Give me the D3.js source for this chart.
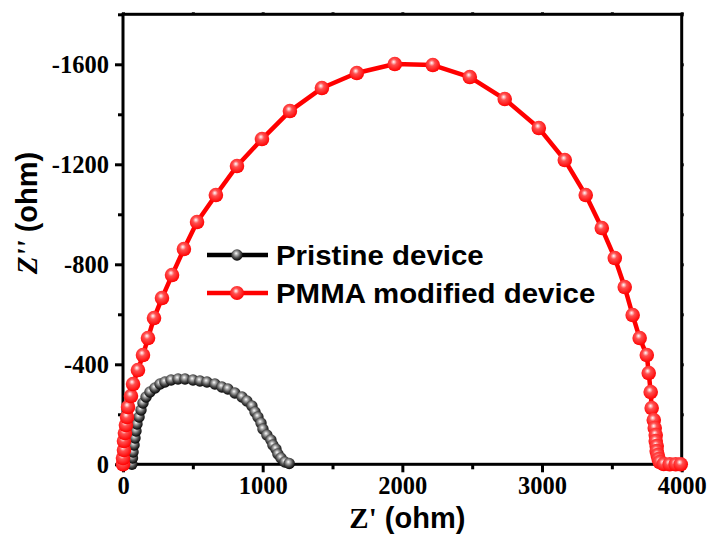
<!DOCTYPE html>
<html>
<head>
<meta charset="utf-8">
<script src="https://cdn.jsdelivr.net/npm/d3@7"></script>
<style>
  body { margin: 0; background: #fff; }
  .tick text { font-family: "Liberation Serif", "Times New Roman", serif; font-weight: bold; font-size: 24.5px; fill: #000; }
</style>
</head>
<body>
<script>
// Nyquist data, Z' (ohm) vs Z'' (ohm)
var pristineRe = [64, 68, 72, 79, 86, 93, 100, 115, 129, 143, 165, 193, 229, 265, 300, 344, 394, 444, 501, 551,
                  601, 658, 708, 751, 801, 852, 887, 923, 945, 966, 988, 1002, 1030, 1059, 1073, 1095, 1109, 1131, 1159, 1190];
var pristineIm = [0, -25, -49, -77, -105, -133, -161, -189, -217, -245, -269, -289, -305, -321, -329, -337, -341, -341, -337, -333,
                  -329, -321, -309, -301, -285, -269, -253, -233, -209, -189, -165, -141, -117, -97, -77, -61, -41, -25, -9, -3];

var pmmaRe = [0, 0, 7, 7, 14, 21, 29, 36, 57, 72, 107, 143, 179, 222, 279, 351, 436, 530, 665, 816,
              995, 1195, 1424, 1674, 1946, 2218, 2483, 2733, 2977, 3163, 3313, 3428, 3521, 3592, 3649, 3699, 3750, 3764, 3778, 3785,
              3800, 3807, 3814, 3814, 3821, 3821, 3828, 3835, 3843, 3871, 3914, 3957, 3993];
var pmmaIm = [0, -25, -57, -93, -125, -157, -189, -229, -273, -321, -377, -437, -505, -585, -665, -757, -861, -969, -1077, -1193,
              -1301, -1413, -1505, -1565, -1601, -1597, -1549, -1461, -1345, -1217, -1077, -945, -825, -709, -597, -505, -437, -365, -289, -225,
              -177, -145, -117, -93, -73, -53, -37, -21, -9, -1, 0, 0, 0];

var xTicks = [0, 1000, 2000, 3000, 4000];
var yTicks = [0, -400, -800, -1200, -1600];

var legendNames = ["Pristine device", "PMMA modified device"];

var W = 709, H = 534;
var margin = {top: 14.3, right: 27.3, bottom: 69.7, left: 123};
var width = W - margin.left - margin.right,
    height = H - margin.top - margin.bottom;

var svg = d3.select("body")
    .append("svg")
    .attr("width", W)
    .attr("height", H);

var defs = svg.append("defs");
function ballGrad(id, stops) {
    var g = defs.append("radialGradient")
        .attr("id", id)
        .attr("cx", "45%").attr("cy", "40%").attr("r", "60%")
        .attr("fx", "42%").attr("fy", "35%");
    stops.forEach(function (s) {
        g.append("stop").attr("offset", s[0]).attr("stop-color", s[1]);
    });
}
ballGrad("gRed", [["0%", "#ffffff"], ["35%", "#ff5050"], ["100%", "#ff0000"]]);
ballGrad("gBlack", [["0%", "#ffffff"], ["25%", "#b0b0b0"], ["60%", "#505050"], ["100%", "#000000"]]);

var g = svg.append("g")
    .attr("transform", "translate(" + margin.left + "," + margin.top + ")");

var xScale = d3.scaleLinear().domain([0, 4000]).range([0, width]),
    yScale = d3.scaleLinear().domain([0, -1800]).range([height, 0]);

var fmt = function (d) { return String(d); };

// major axes
g.append("g")
    .attr("transform", "translate(0," + height + ")")
    .call(d3.axisBottom(xScale).tickValues(xTicks).tickSize(8).tickPadding(4).tickFormat(fmt))
    .call(function (a) { a.select(".domain").remove(); });
g.append("g")
    .attr("transform", "translate(0," + height + ")")
    .call(d3.axisBottom(xScale).tickValues([500, 1500, 2500, 3500]).tickSize(5).tickFormat(""))
    .call(function (a) { a.select(".domain").remove(); });

g.append("g")
    .call(d3.axisLeft(yScale).tickValues(yTicks).tickSize(8).tickPadding(6).tickFormat(fmt))
    .call(function (a) { a.select(".domain").remove(); });
g.append("g")
    .call(d3.axisLeft(yScale).tickValues([-200, -600, -1000, -1400, -1800]).tickSize(5).tickFormat(""))
    .call(function (a) { a.select(".domain").remove(); });

// mirror ticks on top and right
g.append("g")
    .call(d3.axisTop(xScale).tickValues(d3.range(0, 4001, 500)).tickSize(2).tickFormat(""))
    .call(function (a) { a.select(".domain").remove(); });
g.append("g")
    .attr("transform", "translate(" + width + ",0)")
    .call(d3.axisRight(yScale).tickValues(d3.range(0, -1801, -200)).tickSize(2).tickFormat(""))
    .call(function (a) { a.select(".domain").remove(); });

g.selectAll(".tick line").attr("stroke", "#000").attr("stroke-width", 3);

g.append("rect")
    .attr("width", width).attr("height", height)
    .attr("fill", "none").attr("stroke", "#000").attr("stroke-width", 3);

// data
var line = d3.line()
    .x(function (d) { return xScale(d[0]); })
    .y(function (d) { return yScale(d[1]); });

function drawSeries(re, im, color, grad, r, lw) {
    var pts = re.map(function (v, i) { return [v, im[i]]; });
    g.append("path")
        .datum(pts)
        .attr("d", line)
        .attr("fill", "none")
        .attr("stroke", color)
        .attr("stroke-width", lw)
        .attr("stroke-linejoin", "round");
    g.append("g").selectAll("circle")
        .data(pts)
        .enter()
        .append("circle")
        .attr("cx", function (d) { return xScale(d[0]); })
        .attr("cy", function (d) { return yScale(d[1]); })
        .attr("r", r)
        .attr("fill", "url(#" + grad + ")");
}
drawSeries(pristineRe, pristineIm, "#000", "gBlack", 5.7, 7);
drawSeries(pmmaRe, pmmaIm, "#ff0000", "gRed", 7.3, 4.5);

// legend
var legColors = ["#000", "#ff0000"], legGrads = ["gBlack", "gRed"], legR = [5.7, 7];
var leg = svg.append("g");
legendNames.forEach(function (name, i) {
    var y = 255 + i * 38;
    leg.append("line")
        .attr("x1", 207).attr("x2", 268).attr("y1", y).attr("y2", y)
        .attr("stroke", legColors[i]).attr("stroke-width", 4.5);
    leg.append("circle")
        .attr("cx", 237).attr("cy", y).attr("r", legR[i])
        .attr("fill", "url(#" + legGrads[i] + ")");
    leg.append("text")
        .attr("transform", "translate(276," + y + ") scale(1.09,1)")
        .attr("dy", "0.36em")
        .style("font-family", "'Liberation Sans', Arial, sans-serif")
        .style("font-weight", "bold")
        .style("font-size", "27px")
        .text(name);
});

// axis titles
var xt = svg.append("text")
    .attr("x", margin.left + width / 2 + 5)
    .attr("y", 528)
    .attr("text-anchor", "middle")
    .style("font-weight", "bold")
    .style("font-size", "29px");
xt.append("tspan").style("font-family", "'Liberation Serif', serif").text("Z'");
xt.append("tspan").style("font-family", "'Liberation Sans', Arial, sans-serif").text(" (ohm)");

var yt = svg.append("text")
    .attr("transform", "translate(37,213) rotate(-90)")
    .attr("text-anchor", "middle")
    .style("font-weight", "bold")
    .style("font-size", "29px");
yt.append("tspan").style("font-family", "'Liberation Serif', serif").style("font-style", "italic").text("Z''");
yt.append("tspan").style("font-family", "'Liberation Sans', Arial, sans-serif").text(" (ohm)");
</script>
</body>
</html>
